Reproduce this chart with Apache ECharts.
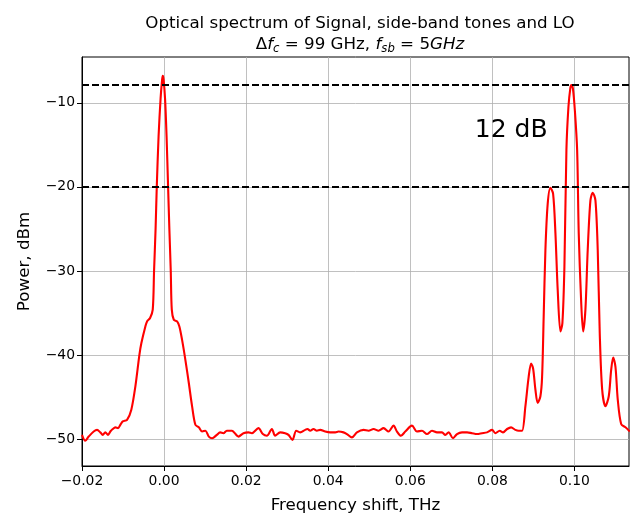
<!DOCTYPE html>
<html>
<head>
<meta charset="utf-8">
<script src="https://cdn.jsdelivr.net/npm/echarts@6/dist/echarts.min.js"></script>
<style>
  html, body { margin: 0; padding: 0; background: #fff; }
  #main { width: 630px; height: 520px; }
</style>
</head>
<body>
<div id="main"></div>
<script>
// spectrum (THz, dBm)
var freq = [
  -0.02000, -0.01920, -0.01837, -0.01715, -0.01634, -0.01554, -0.01495, -0.01432, -0.01366, -0.01310,
  -0.01251, -0.01188, -0.01122, -0.01066, -0.01007, -0.00902, -0.00798, -0.00700, -0.00602, -0.00554,
  -0.00456, -0.00415, -0.00341, -0.00276, -0.00244, -0.00207, -0.00178, -0.00134, -0.00085, -0.00049,
  -0.00032, -0.00012, 0.00024, 0.00061, 0.00098, 0.00129, 0.00163, 0.00188, 0.00237, 0.00317,
  0.00373, 0.00439, 0.00520, 0.00602, 0.00683, 0.00763, 0.00846, 0.00927, 0.01007, 0.01090,
  0.01171, 0.01285, 0.01366, 0.01446, 0.01529, 0.01651, 0.01812, 0.01934, 0.02056, 0.02139,
  0.02300, 0.02407, 0.02505, 0.02627, 0.02707, 0.02829, 0.02951, 0.03032, 0.03129, 0.03220,
  0.03317, 0.03439, 0.03495, 0.03561, 0.03641, 0.03724, 0.03805, 0.03927, 0.04049, 0.04171,
  0.04251, 0.04373, 0.04456, 0.04578, 0.04700, 0.04861, 0.04983, 0.05105, 0.05227, 0.05349,
  0.05471, 0.05593, 0.05676, 0.05773, 0.05878, 0.06041, 0.06163, 0.06285, 0.06407, 0.06529,
  0.06651, 0.06773, 0.06854, 0.06934, 0.07041, 0.07139, 0.07261, 0.07383, 0.07505, 0.07627,
  0.07749, 0.07871, 0.07993, 0.08073, 0.08178, 0.08261, 0.08359, 0.08456, 0.08561, 0.08641,
  0.08724, 0.08805, 0.08885, 0.08944, 0.08993, 0.09049, 0.09105, 0.09171, 0.09212, 0.09251,
  0.09293, 0.09349, 0.09415, 0.09480, 0.09537, 0.09593, 0.09659, 0.09707, 0.09756, 0.09805,
  0.09854, 0.09902, 0.09927, 0.09963, 0.10012, 0.10066, 0.10105, 0.10163, 0.10212, 0.10268,
  0.10324, 0.10390, 0.10446, 0.10512, 0.10568, 0.10617, 0.10676, 0.10756, 0.10837, 0.10895,
  0.10944, 0.11000, 0.11056, 0.11139, 0.11244, 0.11349
];
var power = [
  -49.5, -50.2, -49.7, -49.1, -48.9, -49.2, -49.5, -49.2, -49.5, -49.1,
  -48.8, -48.6, -48.7, -48.3, -47.9, -47.7, -46.5, -43.75, -40.0, -38.6,
  -36.6, -36.0, -35.6, -34.6, -30.0, -25.0, -20.0, -14.0, -9.5, -7.3,
  -6.8, -7.2, -9.5, -14.0, -20.0, -25.0, -30.0, -34.6, -35.8, -36.0,
  -36.6, -38.2, -40.6, -43.3, -46.1, -48.3, -48.6, -49.1, -49.0, -49.7,
  -49.9, -49.5, -49.2, -49.3, -49.0, -49.0, -49.7, -49.3, -49.2, -49.3,
  -48.7, -49.4, -49.6, -48.8, -49.6, -49.2, -49.3, -49.5, -50.1, -49.0,
  -49.2, -48.9, -48.8, -49.0, -48.8, -49.0, -48.9, -49.1, -49.2, -49.2,
  -49.1, -49.2, -49.4, -49.8, -49.2, -48.9, -49.0, -48.8, -49.0, -48.7,
  -49.1, -48.4, -49.1, -49.6, -49.1, -48.4, -49.1, -49.0, -49.4, -49.0,
  -49.2, -49.2, -49.5, -49.2, -49.9, -49.4, -49.2, -49.2, -49.3, -49.4,
  -49.3, -49.2, -48.9, -49.3, -49.0, -49.2, -48.8, -48.6, -48.9, -49.0,
  -49.0, -46.1, -42.6, -41.0, -41.6, -44.1, -45.7, -44.9, -42.6, -35.4,
  -27.5, -22.0, -20.1, -20.8, -25.5, -32.3, -37.2, -36.2, -29.5, -15.6,
  -10.5, -8.2, -7.9, -8.3, -11.0, -15.6, -25.5, -33.5, -37.2, -34.6,
  -27.5, -21.6, -20.7, -21.6, -27.5, -37.4, -44.1, -46.1, -44.9, -41.8,
  -40.3, -41.4, -45.3, -48.2, -48.6, -49.1
];

// reference levels (dashed) and the annotation
var refLevels = [-7.8, -20];
var noteText = '12 dB';
var notePos = [0.0846, -13.3];

var xTicks = [-0.02, 0.00, 0.02, 0.04, 0.06, 0.08, 0.10];
var yTicks = [-50, -40, -30, -20, -10];

var font = 'DejaVu Sans';
function minus(s) { return String(s).replace('-', '\u2212'); }

var chartDom = document.getElementById('main');
var myChart = echarts.init(chartDom);
var option;

option = {
    animation: false,
    textStyle: { fontFamily: font },
    title: {
        left: 355,
        top: 8,
        textAlign: 'center',
        text: '{n|Optical spectrum of Signal, side-band tones and LO}\n' +
              '{n|\u0394}{i|f}{s|c}{n| = 99 GHz, }{i|f}{s|sb}{n| = 5}{i|GHz}',
        textStyle: {
            fontWeight: 'normal',
            rich: {
                n: { fontFamily: font, fontSize: 16.7, fontWeight: 'normal', color: '#000', lineHeight: 21 },
                i: { fontFamily: font, fontSize: 16.7, fontWeight: 'normal', fontStyle: 'italic', color: '#000', lineHeight: 21 },
                s: { fontFamily: font, fontSize: 11.7, fontWeight: 'normal', fontStyle: 'italic', color: '#000', lineHeight: 14, verticalAlign: 'bottom' }
            }
        }
    },
    grid: {
        left: 82,
        right: 1,
        top: 57,
        bottom: 54,
        show: true,
        borderColor: '#000',
        borderWidth: 1
    },
    xAxis: {
        type: 'value',
        min: -0.02,
        max: 0.1133,
        name: 'Frequency shift, THz',
        nameLocation: 'middle',
        nameGap: 31,
        nameTextStyle: { fontSize: 16.7, color: '#000', fontFamily: font },
        axisLine: { show: true, onZero: false, lineStyle: { color: '#000', width: 1 } },
        axisTick: { show: true, length: 5, customValues: xTicks, lineStyle: { color: '#000' } },
        axisLabel: {
            customValues: xTicks,
            margin: 8,
            fontSize: 13.9,
            color: '#000',
            fontFamily: font,
            formatter: function (v) { return minus(v.toFixed(2)); }
        },
        splitLine: { show: true, lineStyle: { color: '#b0b0b0', width: 0.8 } }
    },
    yAxis: {
        type: 'value',
        min: -53.2,
        max: -4.55,
        name: 'Power, dBm',
        nameLocation: 'middle',
        nameGap: 49,
        nameTextStyle: { fontSize: 16.7, color: '#000', fontFamily: font },
        axisLine: { show: true, onZero: false, lineStyle: { color: '#000', width: 1 } },
        axisTick: { show: true, length: 5, customValues: yTicks, lineStyle: { color: '#000' } },
        axisLabel: {
            customValues: yTicks,
            margin: 7,
            fontSize: 13.9,
            color: '#000',
            fontFamily: font,
            formatter: function (v) { return minus(v); }
        },
        splitLine: { show: true, lineStyle: { color: '#b0b0b0', width: 0.8 } }
    },
    series: [
        {
            name: 'spectrum',
            type: 'line',
            data: freq.map(function (f, i) { return [f, power[i]]; }),
            showSymbol: false,
            smooth: 0.3,
            clip: true,
            lineStyle: { color: '#ff0000', width: 2.1 },
            markLine: {
                silent: true,
                symbol: 'none',
                label: { show: false },
                lineStyle: { color: '#000', width: 2, type: [7, 3] },
                data: refLevels.map(function (v) { return { yAxis: v }; })
            },
            markPoint: {
                silent: true,
                symbol: 'circle',
                symbolSize: 0,
                label: {
                    show: true,
                    position: 'inside',
                    formatter: noteText,
                    fontSize: 25,
                    color: '#000',
                    fontFamily: font
                },
                data: [{ coord: notePos }]
            }
        }
    ]
};

option && myChart.setOption(option);
</script>
</body>
</html>
